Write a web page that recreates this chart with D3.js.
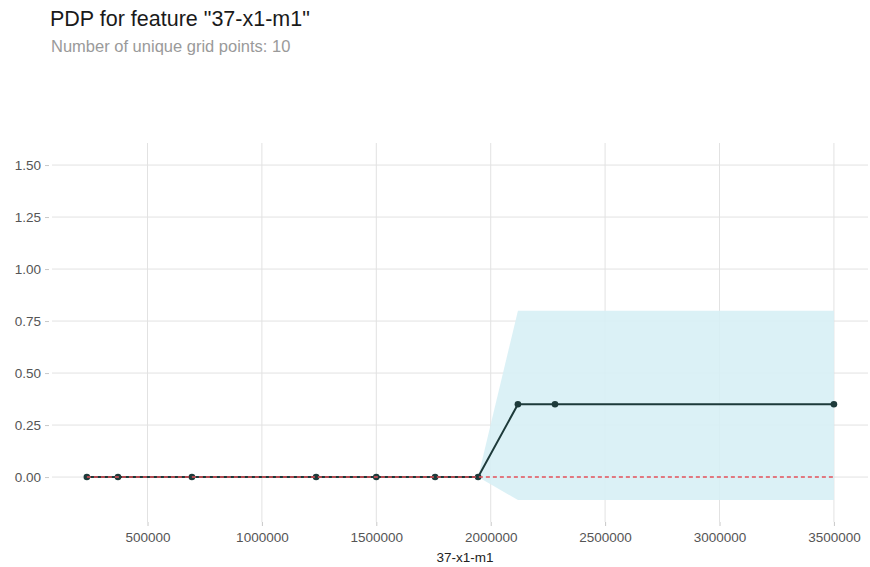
<!DOCTYPE html>
<html>
<head>
<meta charset="utf-8">
<script src="https://cdn.jsdelivr.net/npm/d3@7"></script>
<style>
  body { margin: 0; background: #fff; font-family: "Liberation Sans", Arial, sans-serif; }
</style>
</head>
<body>
<div id="chart"></div>
<script>
// datos
const gridX = [235000, 371000, 694000, 1237000, 1500000, 1757000, 1945000, 2119000, 2281000, 3500000]
const pdp   = [0, 0, 0, 0, 0, 0, 0, 0.35, 0.35, 0.35]
const upper = [0, 0, 0, 0, 0, 0, 0, 0.80, 0.80, 0.80]
const lower = [0, 0, 0, 0, 0, 0, 0, -0.11, -0.11, -0.11]
const xTicks = [500000, 1000000, 1500000, 2000000, 2500000, 3000000, 3500000]
const yTicks = [0, 0.25, 0.5, 0.75, 1.0, 1.25, 1.5]

const width = 870
const height = 567
const panel = { left: 52, right: 868, top: 143, bottom: 522 }

const data = gridX.map((d, i) => ({ x: d, y: pdp[i], hi: upper[i], lo: lower[i] }))

const svg = d3.select("#chart").append("svg").attr("width", width).attr("height", height)

const x = d3.scaleLinear().domain([82600, 3649000]).range([panel.left, panel.right])
const y = d3.scaleLinear().domain([-0.216, 1.606]).range([panel.bottom, panel.top])

// titulos
svg.append("text").attr("x", 50).attr("y", 26)
    .attr("font-size", 21.5).attr("fill", "#1a1a1a")
    .text('PDP for feature "37-x1-m1"')
svg.append("text").attr("x", 51).attr("y", 52)
    .attr("font-size", 16.5).attr("fill", "#9a9a9a")
    .text("Number of unique grid points: 10")

// rejilla
const grid = svg.append("g").attr("id", "grid")
grid.selectAll(".hgrid").data(yTicks).enter().append("line")
    .attr("x1", panel.left).attr("x2", panel.right)
    .attr("y1", d => y(d)).attr("y2", d => y(d))
    .attr("stroke", "#e2e2e2").attr("stroke-width", 1)
grid.selectAll(".vgrid").data(xTicks).enter().append("line")
    .attr("x1", d => x(d)).attr("x2", d => x(d))
    .attr("y1", panel.top).attr("y2", panel.bottom)
    .attr("stroke", "#e2e2e2").attr("stroke-width", 1)

// ejes
const xAxis = d3.axisBottom(x).tickValues(xTicks).tickFormat(d3.format("d")).tickSize(4).tickPadding(6)
const yAxis = d3.axisLeft(y).tickValues(yTicks).tickFormat(d3.format(".2f")).tickSize(4).tickPadding(4)

const xAxisGroup = svg.append("g").attr("transform", `translate(0,${panel.bottom})`).call(xAxis)
const yAxisGroup = svg.append("g").attr("transform", `translate(${panel.left - 3},0)`).call(yAxis)
;[xAxisGroup, yAxisGroup].forEach(g => {
    g.select(".domain").remove()
    g.selectAll(".tick line").attr("stroke", "#c8c8c8")
    g.selectAll(".tick text").attr("fill", "#555").attr("font-size", 13.5)
        .attr("font-family", "Liberation Sans, Arial, sans-serif")
})

svg.append("text").attr("x", 465).attr("y", 562)
    .attr("text-anchor", "middle").attr("font-size", 13.5).attr("fill", "#222")
    .text("37-x1-m1")

// banda de confianza
const area = d3.area().x(d => x(d.x)).y0(d => y(d.lo)).y1(d => y(d.hi))
svg.append("path").datum(data).attr("d", area).attr("fill", "#d7eff5").attr("opacity", 0.9)

// linea pdp
const line = d3.line().x(d => x(d.x)).y(d => y(d.y))
svg.append("path").datum(data).attr("d", line)
    .attr("fill", "none").attr("stroke", "#1d3a3a").attr("stroke-width", 2)

svg.selectAll(".pt").data(data).enter().append("circle")
    .attr("cx", d => x(d.x)).attr("cy", d => y(d.y)).attr("r", 3.3)
    .attr("fill", "#1d3a3a")

// linea de referencia en cero, encima
svg.append("line")
    .attr("x1", x(gridX[0])).attr("x2", x(gridX[gridX.length - 1]))
    .attr("y1", y(0)).attr("y2", y(0))
    .attr("stroke", "#e4505a").attr("stroke-width", 1.5).attr("stroke-dasharray", "4,3")
</script>
</body>
</html>
